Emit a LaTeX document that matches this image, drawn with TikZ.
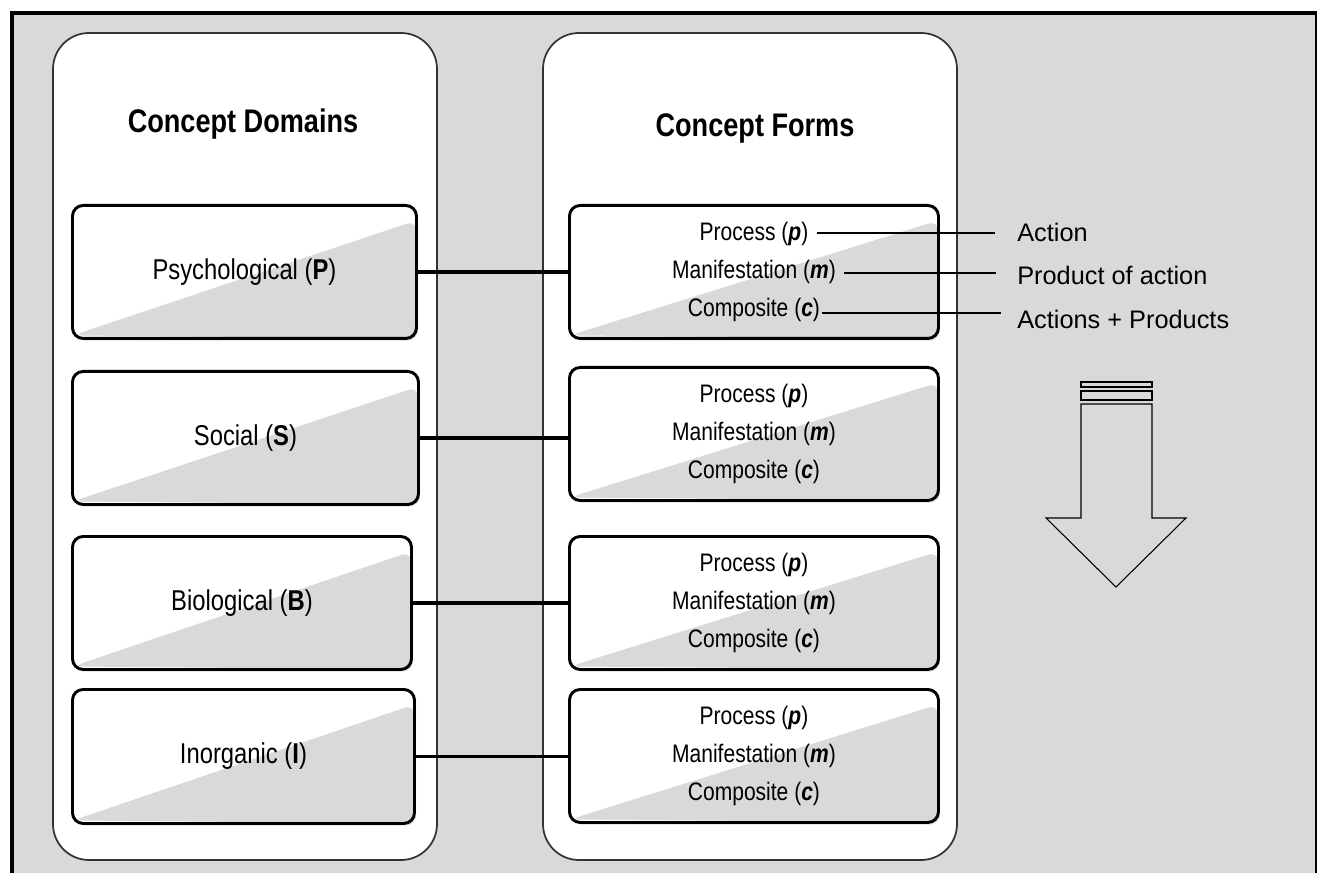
\documentclass[tikz,border=0pt]{standalone}
\usepackage{fontspec}
\setmainfont{Liberation Sans}
\newfontfamily\condensedsans{Liberation Sans}[FakeStretch=0.83]
\usetikzlibrary{calc,shadows}
\definecolor{panelgray}{HTML}{D9D9D9}

\begin{document}
\begin{tikzpicture}[x=0.75pt,y=-0.75pt,
  column/.style={draw=black!80, line width=1.3pt, rounded corners=27pt, fill=white},
  inbox/.style={draw=black, line width=2.2pt, rounded corners=8pt, fill=white,
    inner sep=0pt, anchor=north west,
    drop shadow={shadow xshift=1.2pt, shadow yshift=-1.6pt, opacity=0.25},
    path picture={\fill[panelgray]
      ($(path picture bounding box.south west)+(0,-3)$) --
      ($(path picture bounding box.north east)+(0,15)$) --
      (path picture bounding box.south east) -- cycle;}},
  domtext/.style={font=\condensedsans\fontsize{21.5}{24}\selectfont},
  formtext/.style={font=\condensedsans\fontsize{19}{22}\selectfont, inner sep=2pt},
  headline/.style={font=\condensedsans\bfseries\fontsize{24.5}{28}\selectfont, anchor=base},
  link/.style={line width=2.6pt},
  leader/.style={line width=1.2pt},
  sidenote/.style={font=\fontsize{19}{22}\selectfont, anchor=base west, inner sep=0pt},
  bigarrow/.style={draw=black, line width=0.8pt, line join=miter},
]
\useasboundingbox (0,0) rectangle (1317,873);

% panel background and frame
\fill[panelgray] (12,13) rectangle (1316,873);
\draw[line width=3pt] (11.5,873) -- (11.5,13.3) -- (1317,13.3);
\draw[line width=1.2pt] (1316,13) -- (1316,873);

% the two columns
\draw[column] (53,33) rectangle (437,860);
\draw[column] (543,33) rectangle (957,860);

\node[headline] (domhead) at (243,133) {Concept Domains};
\node[headline] (formhead) at (755,137) {Concept Forms};

% domains
\node[inbox, domtext, minimum width=344*0.75pt, minimum height=133*0.75pt] (psy) at (71,204) {Psychological (\textbf{P})};
\node[inbox, domtext, minimum width=346*0.75pt, minimum height=133*0.75pt] (soc) at (71,370) {Social (\textbf{S})};
\node[inbox, domtext, minimum width=339*0.75pt, minimum height=133*0.75pt] (bio) at (71,535) {Biological (\textbf{B})};
\node[inbox, domtext, minimum width=342*0.75pt, minimum height=134*0.75pt] (ino) at (71,688) {Inorganic (\textbf{I})};

% forms
\foreach \i/\y in {1/204, 2/366, 3/535, 4/688} {
  \node[inbox, minimum width=369*0.75pt, minimum height=133*0.75pt] (frm\i) at (568,\y) {};
  \node[formtext] (p\i) at ($(frm\i.center)+(0,-38)$) {Process (\textbf{\textit{p}})};
  \node[formtext] (m\i) at ($(frm\i.center)+(0,0)$) {Manifestation (\textbf{\textit{m}})};
  \node[formtext] (c\i) at ($(frm\i.center)+(0,38)$) {Composite (\textbf{\textit{c}})};
}

% domain-to-form links
\draw[link] (psy.east) -- (psy.east -| frm1.west);
\draw[link] (soc.east) -- (soc.east -| frm2.west);
\draw[link] (bio.east) -- (bio.east -| frm3.west);
\draw[link] (ino.east) -- (ino.east -| frm4.west);

% leaders to the meanings
\coordinate (ap) at (995,233);
\coordinate (am) at (996,273);
\coordinate (ac) at (1001,313);
\draw[leader] ([xshift=4pt]p1.east |- ap) -- (ap);
\draw[leader] ([xshift=4pt]m1.east |- am) -- (am);
\draw[leader] ([xshift=-1pt]c1.east |- ac) -- (ac);

\node[sidenote] (nact) at (1017,242) {Action};
\node[sidenote] (nprod) at (1017,285) {Product of action};
\node[sidenote] (nboth) at (1017,329) {Actions + Products};

% downward arrow
\draw[bigarrow] (1081,404) -- (1152,404) -- (1152,518) -- (1186,518) -- (1116,587)
  -- (1046,518) -- (1081,518) -- cycle;
\draw[bigarrow] (1081,382) rectangle (1152,387);
\draw[bigarrow] (1081,391) rectangle (1152,400);
\end{tikzpicture}
\end{document}
